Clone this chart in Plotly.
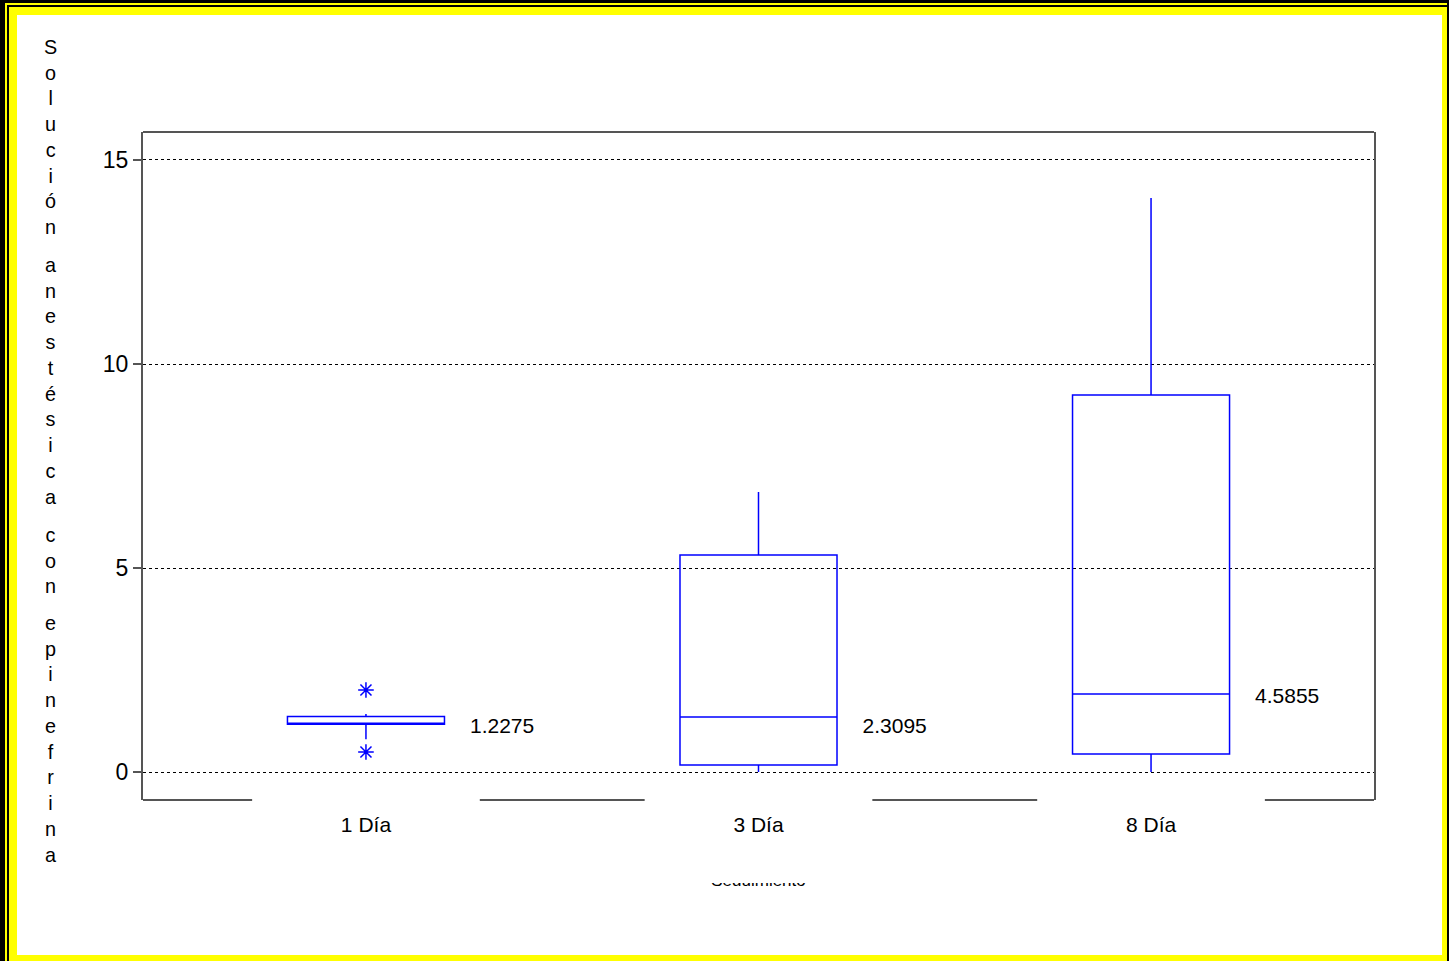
import plotly.graph_objects as go

# ---------------- data ----------------
categories = ["1 Día", "3 Día", "8 Día"]
q1 = [1.17, 0.17, 0.44]
median = [1.19, 1.35, 1.91]
q3 = [1.36, 5.32, 9.24]
lowerfence = [0.80, 0.0, 0.0]
upperfence = [1.42, 6.86, 14.07]
outlier_group = [0, 0]
outlier_values = [2.01, 0.49]
mean_labels = ["1.2275", "2.3095", "4.5855"]
mean_label_y = [1.08, 1.08, 1.81]
y_ticks = [0, 5, 10, 15]
y_title_words = ["Solución", "anestésica", "con", "epinefrina"]
x_title = "Seguimiento"

# ---------------- geometry helpers ----------------
W, H = 1449, 961
L, R, T, B = 143, 1374, 132, 900   # plot area incl. title strip
PW, PH = R - L, B - T


def px2x(px):
    return (px - L) / PW


def py2y(py):
    return (B - py) / PH


pos = list(range(len(categories)))
blue = "#0000FF"
frame = "#555555"
family = "Liberation Sans, Arial, sans-serif"
font = dict(family=family, size=21, color="#000000")
ytick_font = dict(family=family, size=23, color="#000000")
ytitle_font = dict(family=family, size=19.8, color="#000000")

fig = go.Figure()

fig.add_trace(go.Box(
    x=pos, q1=q1, median=median, q3=q3,
    lowerfence=lowerfence, upperfence=upperfence,
    width=0.4, whiskerwidth=0,
    line=dict(color=blue, width=1.5),
    fillcolor="rgba(0,0,0,0)",
    boxpoints=False, showlegend=False, hoverinfo="skip",
))

fig.add_trace(go.Scatter(
    x=[pos[g] for g in outlier_group], y=outlier_values, mode="markers",
    marker=dict(symbol="asterisk-open", size=13, color=blue,
                line=dict(color=blue, width=1.5)),
    showlegend=False, hoverinfo="skip",
))

fig.add_trace(go.Scatter(
    x=[p + 0.265 for p in pos], y=mean_label_y, mode="text",
    text=mean_labels, textposition="middle right",
    textfont=font, showlegend=False, hoverinfo="skip", cliponaxis=False,
))

# x-axis title: mostly hidden, only the bottom sliver shows (as in reference)
fig.add_trace(go.Scatter(
    x=[1], y=[18], mode="text", text=[x_title], textposition="middle center",
    textfont=dict(family=family, size=17, color="#000000"),
    xaxis="x2", yaxis="y2", cliponaxis=False,
    showlegend=False, hoverinfo="skip",
))

main_bottom = py2y(800)

shapes = [
    dict(type="rect", xref="paper", yref="paper", layer="below",
         x0=px2x(5), x1=px2x(1447), y0=py2y(3), y1=py2y(961),
         fillcolor="#FFFF00", line=dict(width=0)),
    dict(type="rect", xref="paper", yref="paper", layer="below",
         x0=px2x(7), x1=px2x(1447), y0=py2y(5), y1=py2y(961),
         fillcolor="#000000", line=dict(width=0)),
    dict(type="rect", xref="paper", yref="paper", layer="below",
         x0=px2x(9), x1=px2x(1447), y0=py2y(7), y1=py2y(961),
         fillcolor="#FFFF00", line=dict(width=0)),
    dict(type="rect", xref="paper", yref="paper", layer="below",
         x0=px2x(17), x1=px2x(1442), y0=py2y(15), y1=py2y(955),
         fillcolor="#FFFFFF", line=dict(width=0)),
    # covers hiding most of the x-axis title
    dict(type="rect", xref="paper", yref="paper", layer="above",
         x0=px2x(600), x1=px2x(920), y0=py2y(883), y1=py2y(845),
         fillcolor="#FFFFFF", line=dict(width=0)),
    dict(type="rect", xref="paper", yref="paper", layer="above",
         x0=px2x(600), x1=px2x(920), y0=py2y(910), y1=py2y(886),
         fillcolor="#FFFFFF", line=dict(width=0)),
    # top frame line
    dict(type="line", xref="paper", yref="paper", x0=0, x1=1, y0=1, y1=1,
         line=dict(color=frame, width=2)),
]
# bottom frame line, with gaps under the category labels
gap = 0.29
xmin, xmax = -0.568, 2.568
edges = [xmin] + [v for p in pos for v in (p - gap, p + gap)] + [xmax]
for a, b in zip(edges[0::2], edges[1::2]):
    shapes.append(dict(type="line", xref="x", yref="y domain", x0=a, x1=b,
                       y0=0, y1=0, line=dict(color=frame, width=2)))

annotations = []
# vertical stacked y-axis title, one word per annotation
word_centers = [137, 380.5, 560.5, 738.5]
for word, cy in zip(y_title_words, word_centers):
    annotations.append(dict(
        text="<br>".join(list(word)), xref="paper", yref="paper",
        x=px2x(50), y=py2y(cy), xanchor="center", yanchor="middle",
        showarrow=False, font=ytitle_font, align="center",
    ))

fig.update_layout(
    width=W, height=H, autosize=False,
    margin=dict(l=L, r=W - R, t=T, b=H - B, pad=0),
    paper_bgcolor="#000000", plot_bgcolor="rgba(0,0,0,0)",
    font=font, showlegend=False,
    shapes=shapes, annotations=annotations,
    xaxis=dict(
        range=[xmin, xmax], tickvals=pos, ticktext=categories,
        showgrid=False, zeroline=False, showline=False, ticks="",
        tickfont=font, ticklabelstandoff=10, anchor="y",
    ),
    yaxis=dict(
        domain=[main_bottom, 1], range=[-0.686, 15.686],
        tickvals=y_ticks, ticks="outside", ticklen=8, tickcolor=frame,
        tickwidth=1.5, tickfont=ytick_font,
        showgrid=True, gridcolor="#000000", griddash="dot", gridwidth=1,
        zeroline=False, showline=True, linecolor=frame, linewidth=2,
        mirror=True,
    ),
    xaxis2=dict(domain=[0, 1], range=[xmin, xmax], anchor="y2",
                visible=False),
    yaxis2=dict(domain=[py2y(900), py2y(850)], range=[0, 50],
                anchor="x2", visible=False),
)

fig.write_html(
    "out.html",
    config={"displayModeBar": False},
    post_script="document.body.style.margin='0';"
                "document.body.style.overflow='hidden';",
)
